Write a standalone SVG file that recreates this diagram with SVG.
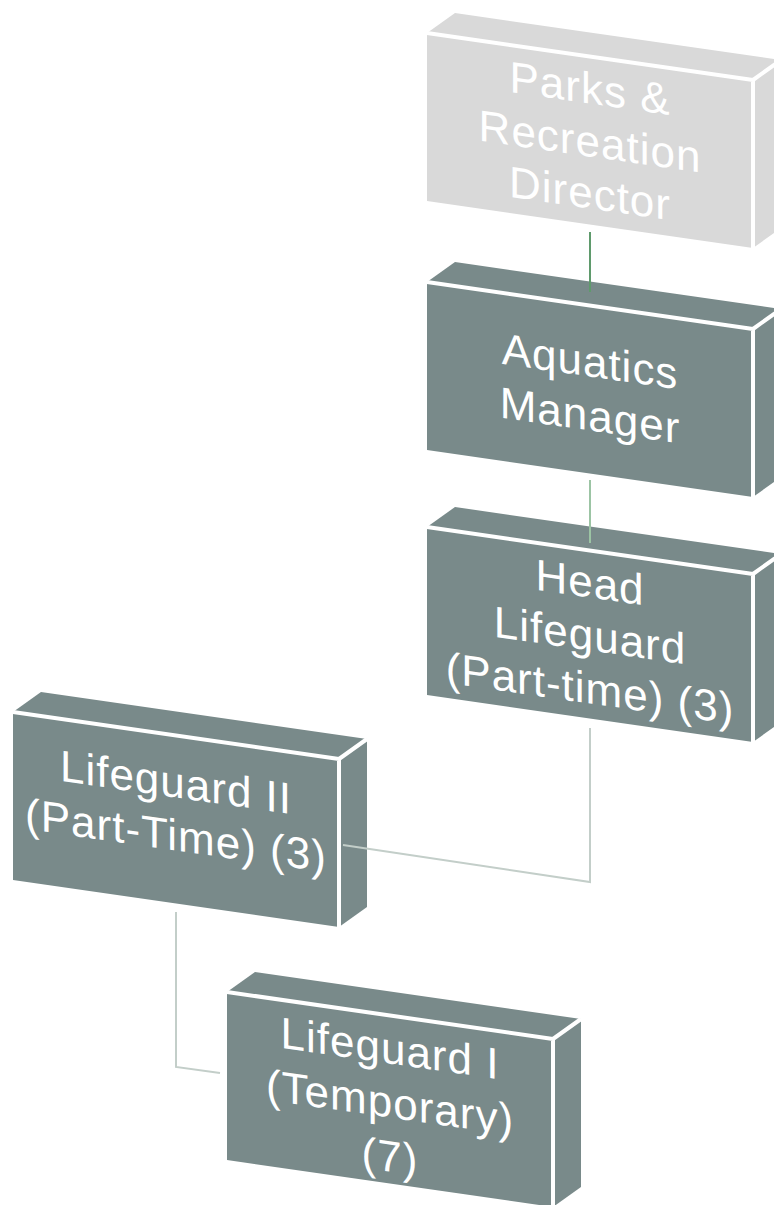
<svg xmlns="http://www.w3.org/2000/svg" xmlns:xlink="http://www.w3.org/1999/xlink" width="774" height="1205" viewBox="0 0 774 1205">
  <style>
    .dark { fill: #798a8a; }
    .light { fill: #d9d9d9; }
    .edge { fill: none; stroke: #ffffff; stroke-width: 4; stroke-linejoin: miter; }
    .lbl { font-family: "Liberation Sans", Arial, sans-serif; font-size: 44px; fill: #ffffff; text-anchor: middle; letter-spacing: 1px; }
    .c1 { fill: none; stroke: #5f9a6c; stroke-width: 2; }
    .c2 { fill: none; stroke: #9cc4a4; stroke-width: 2; }
    .c3 { fill: none; stroke: #c3cec9; stroke-width: 2; }
  </style>
  <defs>
    <path id="top" d="M0,0 L28,-20 L354,27 L326,47 Z"/>
    <path id="front" d="M0,0 L326,47 L326,215 L0,168 Z"/>
    <path id="side" d="M326,47 L354,27 L354,195 L326,215 Z"/>
    <path id="edge" d="M0,0 L326,47 L326,215 M326,47 L354,27"/>
  </defs>
  <rect width="774" height="1205" fill="#ffffff"/>

  <g id="node-director" transform="translate(427,33)">
    <use xlink:href="#top" class="light"/>
    <use xlink:href="#front" class="light"/>
    <use xlink:href="#side" class="light"/>
    <use xlink:href="#edge" class="edge"/>
    <g transform="translate(163,107.5) skewY(8.2)">
      <text class="lbl" x="0" y="-37">Parks &amp;</text>
      <text class="lbl" x="0" y="16">Recreation</text>
      <text class="lbl" x="0" y="68">Director</text>
    </g>
  </g>

  <g id="node-aquatics" transform="translate(427,282)">
    <use xlink:href="#top" class="dark"/>
    <use xlink:href="#front" class="dark"/>
    <use xlink:href="#side" class="dark"/>
    <use xlink:href="#edge" class="edge"/>
    <g transform="translate(163,107.5) skewY(8.2)">
      <text class="lbl" x="0" y="-13">Aquatics</text>
      <text class="lbl" x="0" y="41">Manager</text>
    </g>
  </g>

  <g id="node-head" transform="translate(427,527)">
    <use xlink:href="#top" class="dark"/>
    <use xlink:href="#front" class="dark"/>
    <use xlink:href="#side" class="dark"/>
    <use xlink:href="#edge" class="edge"/>
    <g transform="translate(163,107.5) skewY(8.2)">
      <text class="lbl" x="0" y="-37">Head</text>
      <text class="lbl" x="0" y="16">Lifeguard</text>
      <text class="lbl" x="0" y="69">(Part-time) (3)</text>
    </g>
  </g>

  <g id="node-lifeguard2" transform="translate(13,712)">
    <use xlink:href="#top" class="dark"/>
    <use xlink:href="#front" class="dark"/>
    <use xlink:href="#side" class="dark"/>
    <use xlink:href="#edge" class="edge"/>
    <g transform="translate(163,107.5) skewY(8.2)">
      <text class="lbl" x="0" y="-22">Lifeguard II</text>
      <text class="lbl" x="0" y="31">(Part-Time) (3)</text>
    </g>
  </g>

  <g id="node-lifeguard1" transform="translate(227,992)">
    <use xlink:href="#top" class="dark"/>
    <use xlink:href="#front" class="dark"/>
    <use xlink:href="#side" class="dark"/>
    <use xlink:href="#edge" class="edge"/>
    <g transform="translate(163,107.5) skewY(8.2)">
      <text class="lbl" x="0" y="-36">Lifeguard I</text>
      <text class="lbl" x="0" y="18">(Temporary)</text>
      <text class="lbl" x="0" y="72">(7)</text>
    </g>
  </g>

  <g id="connectors">
    <path class="c1" d="M590,232 L590,292"/>
    <path class="c2" d="M590,480 L590,543"/>
    <path class="c3" d="M590,728 L590,882 L343,845"/>
    <path class="c3" d="M176,912 L176,1067 L220,1073"/>
  </g>
</svg>
